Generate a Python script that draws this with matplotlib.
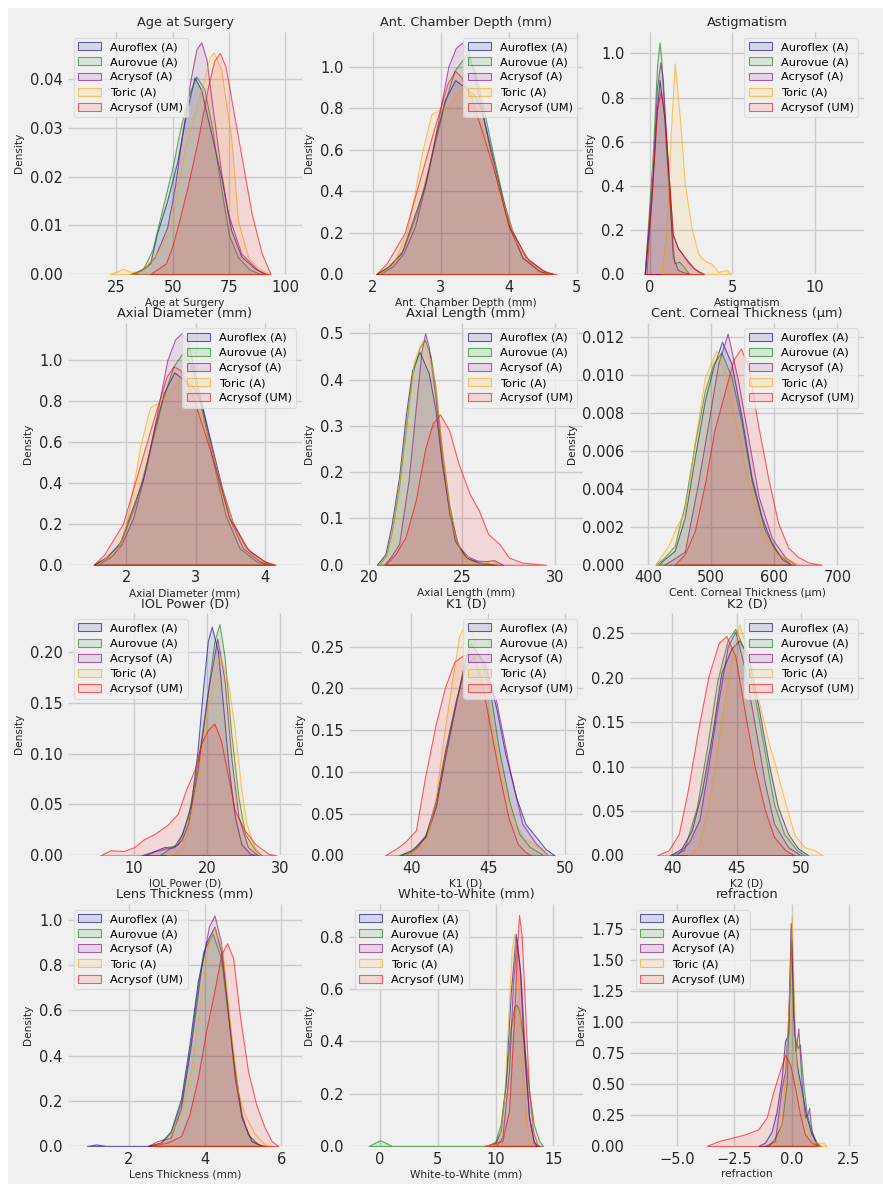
import matplotlib
matplotlib.use("Agg")
import matplotlib.pyplot as plt
from matplotlib.colors import to_rgba
from matplotlib.patches import Rectangle
from matplotlib.ticker import MultipleLocator, FormatStrFormatter

series_names = ["Auroflex (A)", "Aurovue (A)", "Acrysof (A)", "Toric (A)", "Acrysof (UM)"]
series_colors = ["darkblue", "green", "purple", "orange", "red"]

titles = ["Age at Surgery", "Ant. Chamber Depth (mm)", "Astigmatism",
          "Axial Diameter (mm)", "Axial Length (mm)", "Cent. Corneal Thickness (\u00b5m)",
          "IOL Power (D)", "K1 (D)", "K2 (D)",
          "Lens Thickness (mm)", "White-to-White (mm)", "refraction"]

# ---- density curves (x grid, density) for each lens group ----
age_x = [
    [31, 36, 40, 43, 47.5, 52, 56, 59.7, 62.7, 67, 71.5, 76, 80.5, 86.5, 91],
    [32, 37, 41, 46, 50, 53, 56.5, 60.5, 64, 67.5, 71, 75, 79, 84, 89],
    [33, 38, 42, 47.5, 51, 54, 58, 60.5, 62.7, 65, 67.5, 71.5, 74.5, 80.5, 88, 92],
    [22, 26, 28, 31, 35, 38, 43, 49, 53, 55.5, 59.7, 64, 66.5, 68.2, 71.5, 74, 76, 77.6, 79, 83.5, 88, 93],
    [40, 44.7, 47, 50, 52.2, 56.7, 61.2, 65.7, 68.5, 71, 73.5, 76.1, 80.6, 85.1, 89.6, 93.5],
]
age_y = [
    [0, 0.0008, 0.0022, 0.0083, 0.015, 0.023, 0.033, 0.0403, 0.0377, 0.029, 0.020, 0.009, 0.0036, 0.0012, 0],
    [0, 0.0012, 0.005, 0.0145, 0.022, 0.029, 0.036, 0.0405, 0.038, 0.030, 0.019, 0.008, 0.0035, 0.001, 0],
    [0, 0.0015, 0.0035, 0.0095, 0.018, 0.028, 0.040, 0.046, 0.0475, 0.044, 0.035, 0.021, 0.0125, 0.0042, 0.0008, 0],
    [0, 0.0007, 0.0011, 0.0005, 0.0005, 0.0015, 0.0043, 0.009, 0.020, 0.026, 0.033, 0.040, 0.0445, 0.0454, 0.042, 0.034, 0.028, 0.019, 0.011, 0.0035, 0.0012, 0],
    [0, 0.0015, 0.0022, 0.006, 0.0097, 0.018, 0.0275, 0.0384, 0.0438, 0.0453, 0.0425, 0.0357, 0.024, 0.0124, 0.0042, 0],
]

acd_x = [
    [2.05, 2.22, 2.42, 2.62, 2.76, 2.91, 3.06, 3.21, 3.36, 3.5, 3.6, 3.75, 3.9, 4.05, 4.24, 4.49, 4.65],
    [2.05, 2.25, 2.45, 2.65, 2.85, 3.05, 3.2, 3.38, 3.5, 3.6, 3.8, 4.0, 4.2, 4.45, 4.65],
    [2.1, 2.3, 2.45, 2.62, 2.8, 2.91, 3.11, 3.22, 3.31, 3.4, 3.5, 3.6, 3.8, 4.0, 4.2, 4.45, 4.6],
    [2.1, 2.3, 2.5, 2.62, 2.72, 2.86, 3.01, 3.1, 3.21, 3.33, 3.5, 3.7, 3.9, 4.1, 4.3, 4.5, 4.65],
    [2.05, 2.2, 2.47, 2.72, 2.91, 3.1, 3.21, 3.3, 3.46, 3.65, 3.8, 4.0, 4.29, 4.54, 4.7],
]
acd_y = [
    [0, 0.035, 0.10, 0.29, 0.42, 0.65, 0.84, 0.935, 0.90, 0.86, 0.79, 0.58, 0.37, 0.21, 0.084, 0.02, 0],
    [0, 0.04, 0.12, 0.30, 0.55, 0.82, 0.98, 1.06, 0.98, 0.84, 0.53, 0.24, 0.08, 0.015, 0],
    [0, 0.04, 0.10, 0.23, 0.47, 0.65, 1.0, 1.09, 1.115, 1.08, 0.95, 0.79, 0.48, 0.23, 0.08, 0.015, 0],
    [0, 0.05, 0.20, 0.40, 0.58, 0.77, 0.80, 0.81, 0.855, 0.905, 0.84, 0.61, 0.36, 0.16, 0.06, 0.015, 0],
    [0, 0.05, 0.20, 0.49, 0.71, 0.92, 0.98, 0.95, 0.84, 0.64, 0.48, 0.23, 0.067, 0.011, 0],
]

astig_x = [
    [-0.3, 0.1, 0.4, 0.6, 0.9, 1.2, 1.4, 1.7, 2.1, 2.7, 3.3],
    [-0.3, 0.2, 0.45, 0.6, 0.7, 1.0, 1.3, 1.5, 1.8, 2.1, 2.4],
    [-0.3, 0.2, 0.45, 0.65, 0.8, 1.1, 1.4, 1.7, 2.0, 2.5],
    [0.7, 1.0, 1.28, 1.52, 1.83, 2.13, 2.54, 2.94, 3.2, 3.45, 3.75, 4.16, 4.4, 4.67, 4.95],
    [-0.2, 0.2, 0.45, 0.67, 0.9, 1.1, 1.4, 1.7, 1.95, 2.35, 2.95, 3.3],
]
astig_y = [
    [0, 0.335, 0.71, 0.88, 0.70, 0.40, 0.18, 0.12, 0.08, 0.025, 0],
    [0, 0.56, 0.95, 1.05, 0.98, 0.56, 0.21, 0.05, 0.056, 0.03, 0],
    [0, 0.48, 0.85, 0.96, 0.88, 0.50, 0.08, 0.02, 0.01, 0],
    [0, 0.18, 0.64, 0.955, 0.71, 0.41, 0.21, 0.094, 0.07, 0.056, 0.048, 0.01, 0.015, 0.018, 0],
    [0, 0.45, 0.75, 0.83, 0.72, 0.50, 0.18, 0.12, 0.094, 0.05, 0.01, 0],
]

axd_x = [
    [1.53, 1.7, 1.9, 2.1, 2.24, 2.39, 2.54, 2.69, 2.84, 2.98, 3.08, 3.23, 3.38, 3.53, 3.72, 3.97, 4.13],
    [1.53, 1.73, 1.93, 2.13, 2.33, 2.53, 2.68, 2.81, 2.93, 3.03, 3.23, 3.43, 3.63, 3.88, 4.08],
    [1.58, 1.78, 1.93, 2.1, 2.28, 2.39, 2.59, 2.7, 2.79, 2.88, 2.98, 3.08, 3.28, 3.48, 3.68, 3.93, 4.08],
    [1.58, 1.72, 1.85, 2.0, 2.2, 2.34, 2.45, 2.55, 2.69, 2.84, 2.98, 3.18, 3.38, 3.58, 3.78, 3.98, 4.13],
    [1.53, 1.68, 1.95, 2.2, 2.39, 2.58, 2.68, 2.78, 2.94, 3.13, 3.28, 3.48, 3.77, 4.02, 4.15],
]
axd_y = [
    [0, 0.035, 0.10, 0.29, 0.42, 0.65, 0.84, 0.94, 0.90, 0.86, 0.79, 0.58, 0.37, 0.21, 0.084, 0.02, 0],
    [0, 0.04, 0.12, 0.30, 0.55, 0.82, 0.97, 1.035, 0.98, 0.84, 0.53, 0.24, 0.08, 0.015, 0],
    [0, 0.04, 0.10, 0.23, 0.47, 0.65, 1.0, 1.10, 1.13, 1.09, 0.95, 0.79, 0.48, 0.23, 0.08, 0.015, 0],
    [0, 0.04, 0.05, 0.20, 0.58, 0.77, 0.79, 0.82, 0.87, 0.95, 0.84, 0.61, 0.36, 0.16, 0.06, 0.015, 0],
    [0, 0.05, 0.20, 0.49, 0.71, 0.92, 0.97, 0.95, 0.84, 0.64, 0.48, 0.23, 0.067, 0.011, 0],
]

al_x = [
    [20.4, 20.86, 21.2, 21.6, 21.95, 22.3, 22.7, 23.2, 23.56, 23.9, 24.3, 24.6, 25.2, 25.9, 26.8],
    [20.5, 20.9, 21.2, 21.6, 21.95, 22.3, 22.7, 22.99, 23.3, 23.56, 23.9, 24.3, 24.7, 25.2, 25.9, 26.8],
    [20.8, 21.2, 21.6, 22.1, 22.5, 22.8, 23.0, 23.2, 23.56, 23.9, 24.3, 24.8, 25.3, 25.8, 26.3, 26.7, 27.2],
    [20.5, 20.9, 21.2, 21.58, 22.0, 22.4, 22.85, 23.2, 23.56, 23.9, 24.4, 24.96, 25.5, 26.2, 26.6, 27.0],
    [20.86, 21.4, 21.95, 22.5, 23.0, 23.4, 23.8, 24.3, 24.8, 25.4, 25.9, 26.4, 27.0, 27.5, 28.2, 29.5],
]
al_y = [
    [0, 0.023, 0.088, 0.19, 0.32, 0.42, 0.46, 0.413, 0.334, 0.218, 0.117, 0.052, 0.016, 0.005, 0],
    [0, 0.02, 0.07, 0.17, 0.29, 0.41, 0.47, 0.486, 0.45, 0.38, 0.25, 0.13, 0.05, 0.015, 0.004, 0],
    [0, 0.02, 0.045, 0.18, 0.34, 0.46, 0.50, 0.47, 0.36, 0.23, 0.11, 0.04, 0.018, 0.009, 0.008, 0.01, 0],
    [0, 0.02, 0.07, 0.17, 0.31, 0.44, 0.484, 0.45, 0.39, 0.25, 0.09, 0.023, 0.005, 0.004, 0.01, 0],
    [0, 0.023, 0.06, 0.14, 0.25, 0.305, 0.325, 0.29, 0.218, 0.153, 0.117, 0.066, 0.045, 0.016, 0.005, 0],
]

cct_x = [
    [416, 426, 442, 458, 474, 490, 503, 517, 532, 548, 564, 580, 596, 612, 627],
    [412, 426, 442, 458, 474, 490, 503, 516, 532, 548, 564, 585, 606, 627],
    [425, 440, 458, 479, 495, 511, 526, 543, 559, 575, 596, 617, 633],
    [411, 432, 447, 458, 474, 490, 508, 521, 537, 559, 580, 601, 622, 638],
    [442, 458, 474, 490, 505, 522, 535, 547, 559, 574, 590, 606, 622, 638, 654, 675],
]
cct_y = [
    [0, 0.0003, 0.00074, 0.0025, 0.0057, 0.0087, 0.0104, 0.01176, 0.0106, 0.0078, 0.0046, 0.0025, 0.0011, 0.0003, 0],
    [0, 0.0004, 0.001, 0.0032, 0.0064, 0.0092, 0.0106, 0.0112, 0.0099, 0.0075, 0.0044, 0.0018, 0.0006, 0],
    [0, 0.0003, 0.0007, 0.0043, 0.0074, 0.0106, 0.0122, 0.0096, 0.0066, 0.0036, 0.0014, 0.0004, 0],
    [0, 0.001, 0.00215, 0.0028, 0.0065, 0.0099, 0.0113, 0.0103, 0.0078, 0.0043, 0.0018, 0.0006, 0.0003, 0],
    [0, 0.00056, 0.0018, 0.0043, 0.0071, 0.0092, 0.0108, 0.0114, 0.0104, 0.0074, 0.0046, 0.0022, 0.0009, 0.0004, 0.00012, 0],
]

iol_x = [
    [11.0, 12.3, 14.1, 15.5, 16.6, 17.8, 18.7, 19.4, 20.1, 20.64, 21.5, 22.2, 22.9, 23.8, 24.7, 25.9, 27.0],
    [13.5, 14.5, 15.3, 16.0, 17.4, 18.7, 20.1, 21.0, 21.7, 22.4, 23.3, 24.3, 25.2, 26.6, 27.5],
    [11.5, 12.8, 14.5, 15.5, 16.5, 17.4, 18.7, 20.1, 21.4, 22.4, 23.3, 24.3, 25.6, 27.0],
    [14.5, 15.5, 16.4, 17.4, 18.7, 20.1, 21.7, 22.9, 23.8, 24.7, 25.4, 26.5, 27.5],
    [5.4, 6.8, 8.6, 10.0, 11.4, 12.8, 14.6, 16.0, 17.1, 18.3, 19.2, 20.1, 21.0, 21.9, 22.9, 23.8, 25.1, 26.6, 28.4, 29.5],
]
iol_y = [
    [0, 0.003, 0.008, 0.009, 0.021, 0.05, 0.103, 0.16, 0.21, 0.2246, 0.20, 0.146, 0.09, 0.038, 0.011, 0.0016, 0],
    [0, 0.005, 0.009, 0.011, 0.038, 0.09, 0.16, 0.21, 0.227, 0.195, 0.12, 0.057, 0.021, 0.005, 0],
    [0, 0.004, 0.007, 0.008, 0.015, 0.031, 0.083, 0.16, 0.213, 0.172, 0.097, 0.038, 0.008, 0],
    [0, 0.002, 0.005, 0.025, 0.077, 0.146, 0.197, 0.169, 0.123, 0.064, 0.031, 0.008, 0],
    [0, 0.005, 0.0043, 0.008, 0.016, 0.021, 0.03, 0.041, 0.064, 0.084, 0.11, 0.123, 0.1295, 0.113, 0.077, 0.044, 0.025, 0.011, 0.0016, 0],
]

k1_x = [
    [39.2, 40.0, 40.9, 41.6, 42.2, 42.9, 43.5, 44.3, 44.8, 45.5, 46.1, 46.8, 47.4, 48.1, 48.7, 49.3],
    [39.3, 40.2, 40.9, 41.6, 42.2, 42.9, 43.5, 43.85, 44.4, 45.1, 45.7, 46.4, 47.0, 47.7, 48.6],
    [39.5, 40.3, 41.0, 41.6, 42.2, 42.9, 43.5, 43.85, 44.6, 45.5, 46.4, 47.2, 48.1, 48.9],
    [39.5, 40.3, 40.9, 41.6, 42.1, 42.7, 43.1, 43.5, 44.0, 44.6, 45.3, 45.9, 46.6, 47.3, 47.9, 48.6, 49.0],
    [38.3, 39.0, 39.6, 40.3, 40.9, 41.6, 42.2, 42.8, 43.4, 44.0, 44.5, 45.0, 45.7, 46.3, 46.9, 47.4, 47.8],
]
k1_y = [
    [0, 0.006, 0.022, 0.066, 0.126, 0.186, 0.226, 0.242, 0.23, 0.178, 0.122, 0.07, 0.038, 0.022, 0.008, 0],
    [0, 0.008, 0.024, 0.06, 0.12, 0.183, 0.235, 0.254, 0.24, 0.198, 0.126, 0.062, 0.026, 0.01, 0],
    [0, 0.008, 0.025, 0.058, 0.118, 0.182, 0.235, 0.253, 0.234, 0.186, 0.102, 0.038, 0.014, 0],
    [0, 0.008, 0.014, 0.07, 0.142, 0.214, 0.262, 0.278, 0.266, 0.214, 0.15, 0.09, 0.046, 0.02, 0.014, 0.004, 0],
    [0, 0.008, 0.016, 0.03, 0.094, 0.158, 0.202, 0.232, 0.24, 0.24, 0.214, 0.166, 0.098, 0.046, 0.014, 0.004, 0],
]

k2_x = [
    [39.8, 40.7, 41.5, 42.3, 43.1, 43.8, 44.6, 45.2, 45.9, 46.7, 47.5, 48.2, 49.0, 49.8, 50.6],
    [39.9, 40.9, 41.9, 42.7, 43.5, 44.3, 44.9, 45.6, 46.4, 47.2, 47.9, 48.7, 49.7, 50.3],
    [40.3, 41.3, 42.1, 42.8, 43.6, 44.3, 44.9, 45.6, 46.4, 47.2, 47.9, 49.0, 50.0],
    [41.2, 42.0, 42.8, 43.6, 44.4, 45.2, 45.9, 46.7, 47.5, 48.1, 48.8, 49.5, 50.3, 51.1, 51.7],
    [38.8, 39.7, 40.5, 41.2, 42.0, 42.8, 43.6, 44.2, 44.9, 45.6, 46.4, 47.2, 47.9, 48.8, 49.5],
]
k2_y = [
    [0, 0.0075, 0.028, 0.073, 0.137, 0.205, 0.233, 0.242, 0.224, 0.167, 0.103, 0.055, 0.024, 0.0075, 0],
    [0, 0.006, 0.054, 0.122, 0.197, 0.242, 0.255, 0.231, 0.179, 0.115, 0.058, 0.024, 0.0056, 0],
    [0, 0.015, 0.04, 0.10, 0.175, 0.235, 0.252, 0.212, 0.148, 0.081, 0.036, 0.0094, 0],
    [0, 0.0075, 0.055, 0.13, 0.205, 0.26, 0.227, 0.175, 0.126, 0.096, 0.058, 0.023, 0.009, 0.0056, 0],
    [0, 0.0056, 0.024, 0.073, 0.141, 0.201, 0.239, 0.247, 0.224, 0.164, 0.10, 0.051, 0.021, 0.0056, 0],
]

lt_x = [
    [0.9, 1.15, 1.4, 2.5, 2.84, 3.1, 3.37, 3.59, 3.81, 4.03, 4.25, 4.42, 4.6, 4.78, 4.96, 5.13, 5.4, 5.6],
    [2.5, 2.84, 3.1, 3.37, 3.59, 3.78, 3.95, 4.2, 4.42, 4.69, 4.96, 5.22, 5.5],
    [2.5, 2.75, 2.93, 3.1, 3.37, 3.63, 3.9, 4.1, 4.25, 4.42, 4.6, 4.78, 4.96, 5.22, 5.5],
    [2.6, 3.0, 3.37, 3.63, 3.9, 4.08, 4.25, 4.46, 4.69, 4.87, 5.04, 5.31, 5.57, 5.75],
    [2.57, 3.0, 3.37, 3.59, 3.81, 4.03, 4.25, 4.43, 4.58, 4.74, 4.92, 5.13, 5.35, 5.57, 5.75, 5.93],
]
lt_y = [
    [0, 0.007, 0, 0, 0.015, 0.066, 0.21, 0.45, 0.73, 0.90, 0.97, 0.86, 0.60, 0.33, 0.14, 0.05, 0.007, 0],
    [0, 0.015, 0.06, 0.19, 0.42, 0.67, 0.86, 0.94, 0.83, 0.45, 0.125, 0.022, 0],
    [0, 0.022, 0.03, 0.037, 0.17, 0.45, 0.79, 0.97, 1.02, 0.90, 0.60, 0.30, 0.125, 0.022, 0],
    [0, 0.022, 0.14, 0.33, 0.67, 0.89, 0.966, 0.86, 0.49, 0.24, 0.14, 0.052, 0.007, 0],
    [0, 0.015, 0.044, 0.14, 0.30, 0.51, 0.69, 0.85, 0.897, 0.83, 0.57, 0.33, 0.18, 0.08, 0.022, 0],
]

wtw_x = [
    [9.7, 10.0, 10.43, 10.87, 11.3, 11.74, 12.09, 12.46, 12.9, 13.3, 13.6],
    [-1.0, -0.43, 0, 0.43, 1.0, 9.4, 9.99, 10.43, 10.87, 11.3, 11.6, 11.8, 12.03, 12.46, 12.9, 13.3, 13.77, 14.1],
    [10.0, 10.58, 11.16, 11.5, 11.82, 12.17, 12.55, 12.9, 13.3, 13.6],
    [9.7, 10.29, 10.72, 11.16, 11.39, 11.6, 11.88, 12.26, 12.67, 13.04, 13.33],
    [9.0, 9.7, 10.58, 11.16, 11.6, 11.83, 12.03, 12.26, 12.61, 12.9, 13.25, 13.6, 13.9],
]
wtw_y = [
    [0, 0.013, 0.057, 0.24, 0.58, 0.81, 0.68, 0.36, 0.11, 0.019, 0],
    [0, 0.013, 0.022, 0.013, 0, 0, 0.019, 0.083, 0.24, 0.45, 0.53, 0.54, 0.52, 0.39, 0.21, 0.083, 0.019, 0],
    [0, 0.032, 0.29, 0.62, 0.79, 0.64, 0.34, 0.108, 0.013, 0],
    [0, 0.019, 0.172, 0.55, 0.75, 0.81, 0.68, 0.36, 0.083, 0.006, 0],
    [0, 0.009, 0.019, 0.134, 0.49, 0.745, 0.883, 0.80, 0.465, 0.21, 0.057, 0.006, 0],
]

ref_x = [
    [-1.46, -1.17, -0.87, -0.66, -0.44, -0.29, -0.15, -0.04, 0.07, 0.22, 0.44, 0.66, 0.87, 1.17],
    [-1.02, -0.73, -0.44, -0.22, -0.12, 0.0, 0.12, 0.26, 0.36, 0.51, 0.66, 0.87, 1.09, 1.3],
    [-1.17, -0.73, -0.44, -0.29, -0.15, -0.03, 0.09, 0.17, 0.29, 0.44, 0.58, 0.7, 0.76, 0.87, 1.09],
    [-0.95, -0.66, -0.44, -0.22, -0.1, 0.0, 0.1, 0.22, 0.36, 0.58, 0.87, 1.17, 1.38, 1.52],
    [-3.72, -3.2, -2.62, -2.04, -1.46, -1.09, -0.8, -0.51, -0.29, -0.07, 0.15, 0.36, 0.58, 0.87, 1.17],
]
ref_y = [
    [0, 0.027, 0.12, 0.28, 0.55, 0.85, 0.90, 1.80, 1.04, 0.66, 0.44, 0.23, 0.094, 0],
    [0, 0.067, 0.175, 0.50, 1.17, 1.66, 0.90, 0.79, 0.82, 0.50, 0.26, 0.12, 0.027, 0],
    [0, 0.04, 0.47, 0.60, 1.04, 1.78, 1.04, 0.77, 0.95, 0.50, 0.23, 0.26, 0.31, 0.12, 0],
    [0, 0.04, 0.175, 0.77, 1.30, 1.86, 1.17, 0.60, 0.39, 0.20, 0.04, 0.027, 0.027, 0],
    [0, 0.04, 0.067, 0.094, 0.135, 0.23, 0.44, 0.61, 0.735, 0.66, 0.47, 0.26, 0.094, 0.027, 0],
]

curves = [(age_x, age_y), (acd_x, acd_y), (astig_x, astig_y),
          (axd_x, axd_y), (al_x, al_y), (cct_x, cct_y),
          (iol_x, iol_y), (k1_x, k1_y), (k2_x, k2_y),
          (lt_x, lt_y), (wtw_x, wtw_y), (ref_x, ref_y)]

# axis ranges, tick steps, tick formats and legend placement per panel
xlims = [(3.5, 107.5), (1.65, 5.09), (-1.2, 13.0),
         (1.16, 4.53), (18.9, 31.5), (371, 742),
         (0.99, 33.0), (35.96, 51.15), (36.7, 54.9),
         (0.40, 6.55), (-2.7, 17.57), (-7.07, 3.16)]
ymaxs = [0.0496, 1.167, 1.097, 1.183, 0.523, 0.01277,
         0.2377, 0.29, 0.2726, 1.071, 0.925, 1.955]
xsteps = [25, 1, 5, 1, 5, 100, 10, 5, 5, 2, 5, 2.5]
ysteps = [0.01, 0.2, 0.2, 0.2, 0.1, 0.002, 0.05, 0.05, 0.05, 0.2, 0.2, 0.25]
yfmts = ["%.2f", "%.1f", "%.1f", "%.1f", "%.1f", "%.3f",
         "%.2f", "%.2f", "%.2f", "%.1f", "%.1f", "%.2f"]
legend_locs = ["upper left", "upper right", "upper right",
               "upper right", "upper right", "upper right",
               "upper left", "upper right", "upper right",
               "upper left", "upper left", "upper left"]

plt.style.use("fivethirtyeight")
plt.rcParams["font.family"] = "DejaVu Sans"
plt.rcParams["axes.unicode_minus"] = True

BG = "#f0f0f0"
TXT = "#262626"
fig = plt.figure(figsize=(8.83, 11.84), dpi=100, facecolor="white")
fig.patches.append(Rectangle((8 / 883, 0), 1, 1 - 8 / 1184, transform=fig.transFigure,
                             facecolor=BG, edgecolor="none", zorder=-10))
axes = fig.subplots(4, 3)
fig.subplots_adjust(left=68 / 883, right=864 / 883, bottom=1 - 1146 / 1184,
                    top=1 - 32 / 1184, wspace=0.2, hspace=0.2)

for i, ax in enumerate(axes.flat):
    ax.set_facecolor(BG)
    cx, cy = curves[i]
    for name, col, xs, ys in zip(series_names, series_colors, cx, cy):
        ax.fill_between(xs, ys, facecolor=to_rgba(col, 0.1),
                        edgecolor=to_rgba(col, 0.6), linewidth=0.8, label=name)
    ax.set_xlim(*xlims[i])
    ax.set_ylim(0, ymaxs[i])
    ax.xaxis.set_major_locator(MultipleLocator(xsteps[i]))
    ax.yaxis.set_major_locator(MultipleLocator(ysteps[i]))
    ax.yaxis.set_major_formatter(FormatStrFormatter(yfmts[i]))
    ax.tick_params(labelsize=10.5, length=0, pad=4, colors=TXT)
    ax.grid(True, color="#cbcbcb", linewidth=1)
    for s in ax.spines.values():
        s.set_visible(False)
    ax.set_title(titles[i], fontsize=9.3, pad=4, color=TXT)
    ax.set_xlabel(titles[i], fontsize=7.6, labelpad=2, color=TXT)
    ax.set_ylabel("Density", fontsize=7.6, labelpad=4, color=TXT)
    leg = ax.legend(loc=legend_locs[i], fontsize=8.2, frameon=True, fancybox=True,
                    framealpha=0.8, borderaxespad=0.5, handlelength=2.0,
                    handletextpad=0.8, labelspacing=0.45)
    leg.get_frame().set_facecolor(BG)
    leg.get_frame().set_edgecolor("#d8d8d8")
    leg.get_frame().set_linewidth(0.8)

fig.savefig("out.png", dpi=100, facecolor=fig.get_facecolor())
